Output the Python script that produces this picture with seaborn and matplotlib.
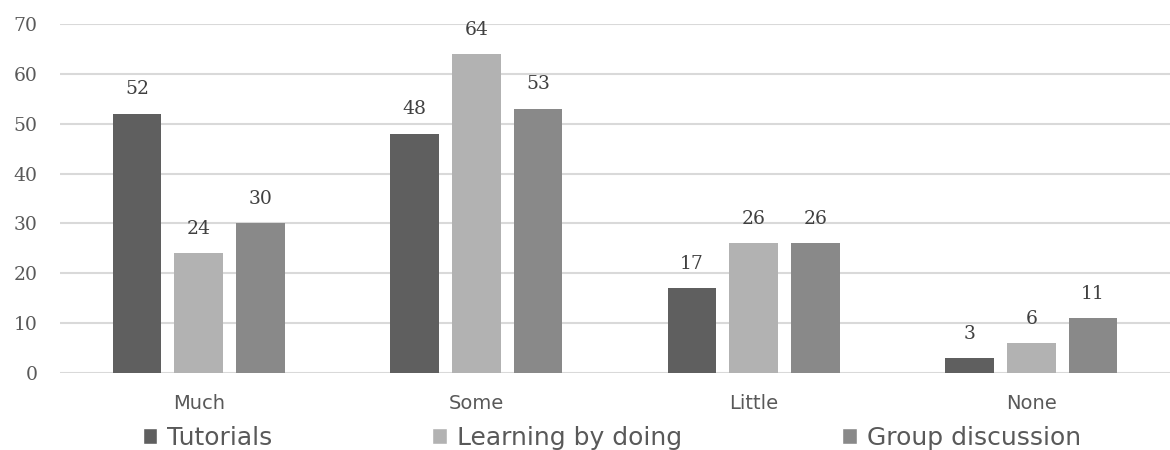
import matplotlib
matplotlib.use("Agg")
import matplotlib.pyplot as plt
import seaborn as sns
import pandas as pd

categories = ["Much", "Some", "Little", "None"]
series = ["Tutorials", "Learning by doing", "Group discussion"]
tutorials = [52, 48, 17, 3]
learning_by_doing = [24, 64, 26, 6]
group_discussion = [30, 53, 26, 11]
y_ticks = [0, 10, 20, 30, 40, 50, 60, 70]

colors = ["#5f5f5f", "#b2b2b2", "#898989"]

rows = []
for name, vals in zip(series, [tutorials, learning_by_doing, group_discussion]):
    for cat, v in zip(categories, vals):
        rows.append({"category": cat, "series": name, "value": v})
df = pd.DataFrame(rows)

sns.set_style("white")
fig = plt.figure(figsize=(11.7, 4.5), dpi=100)
ax = fig.add_axes([60 / 1170, 1 - 373 / 450, 1 - 60 / 1170, (373 - 24) / 450])

group_width = 0.667
sns.barplot(data=df, x="category", y="value", hue="series", order=categories,
            hue_order=series, palette=colors, width=group_width, saturation=1,
            errorbar=None, ax=ax, legend=True, zorder=3)

# leave a small gap between neighbouring bars in a group
shrink = 0.79
for patch in ax.patches:
    if patch.get_height() == 0 and patch.get_width() == 0:
        continue
    w = patch.get_width()
    x = patch.get_x()
    patch.set_width(w * shrink)
    patch.set_x(x + w * (1 - shrink) / 2)
    patch.set_edgecolor("none")

for container in ax.containers:
    ax.bar_label(container, labels=[f"{v:g}" for v in container.datavalues],
                 padding=11, fontsize=13.5, color="#404040",
                 family="DejaVu Serif")

ax.set_ylim(0, 70)
ax.set_yticks(y_ticks)
ax.set_xlim(-0.5, 3.5)
ax.yaxis.grid(True, color="#d9d9d9", linewidth=1.5, zorder=0)
ax.set_axisbelow(True)
for s in ax.spines.values():
    s.set_visible(False)
ax.set_xlabel("")
ax.set_ylabel("")
ax.tick_params(axis="both", length=0)
for lbl in ax.get_yticklabels():
    lbl.set_family("DejaVu Serif")
    lbl.set_fontsize(13.5)
    lbl.set_color("#595959")
ax.tick_params(axis="y", pad=16)
for lbl in ax.get_xticklabels():
    lbl.set_family("DejaVu Sans")
    lbl.set_fontsize(14)
    lbl.set_color("#595959")
ax.tick_params(axis="x", pad=15)

handles, labels = ax.get_legend_handles_labels()
ax.legend(handles, labels, loc="center", bbox_to_anchor=(0.497, -0.185),
          ncol=3, frameon=False, fontsize=18, handlelength=0.58,
          handleheight=0.58, handletextpad=0.4, columnspacing=6.4,
          labelcolor="#595959", borderaxespad=0, borderpad=0)

fig.savefig("out.png", dpi=100)
